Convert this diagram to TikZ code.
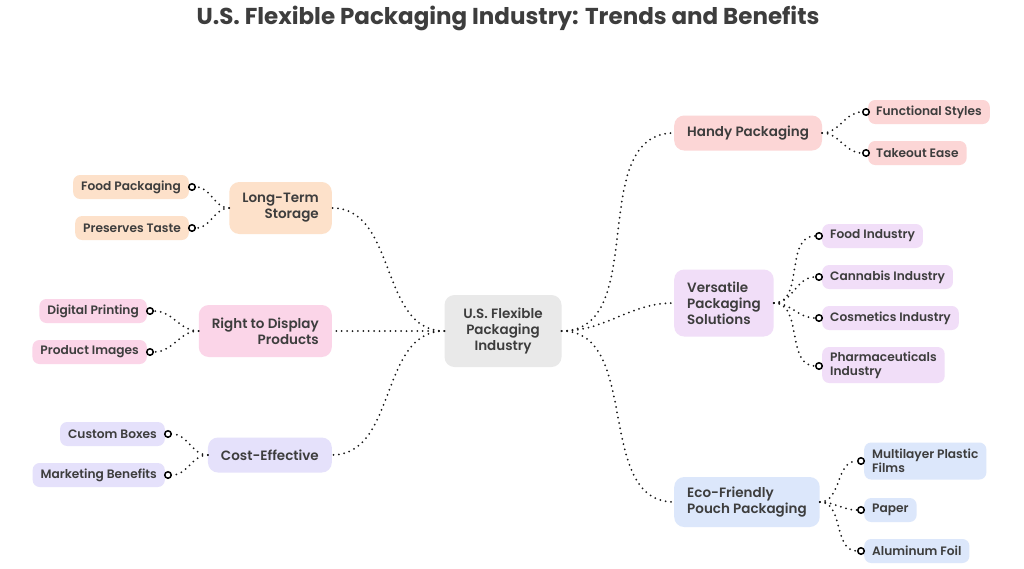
\documentclass[tikz,border=0pt]{standalone}
\usepackage{fontspec}
\setmainfont{Poppins}[UprightFont={* SemiBold}, BoldFont={* Bold}]
\usepackage{tikz}
\usetikzlibrary{positioning}
\usepackage{xcolor}
\definecolor{inkgray}{HTML}{3D3D3D}
\definecolor{ctrfill}{HTML}{E9E9E9}
\definecolor{handyfill}{HTML}{FCD6D6}
\definecolor{versfill}{HTML}{F1DEF8}
\definecolor{ecofill}{HTML}{DCE7FB}
\definecolor{storfill}{HTML}{FDE1CA}
\definecolor{dispfill}{HTML}{FBD5E8}
\definecolor{costfill}{HTML}{E5E1FB}

\begin{document}
\begin{tikzpicture}[x=1pt,y=-1pt,
	box/.style={rounded corners=10pt, text=inkgray, inner xsep=13pt, inner ysep=6pt, minimum height=35pt, font=\fontsize{13.5}{16}\selectfont},
	leaf/.style={rounded corners=7pt, text=inkgray, inner xsep=8pt, inner ysep=4pt, minimum height=24pt, align=left, font=\fontsize{12.2}{14}\selectfont},
	knob/.style={circle, draw=black, line width=1.5pt, fill=white, inner sep=0pt, minimum size=6.5pt},
	link/.style={line width=2pt, dash pattern=on 0pt off 5.4pt, line cap=round, black!90}]
	\useasboundingbox (0,0) rectangle (1024,568);
	\fill[white] (0,0) rectangle (1024,568);
	\node[text=inkgray, font=\bfseries\fontsize{23}{27}\selectfont] (title) at (508,18) {U.S. Flexible Packaging Industry: Trends and Benefits};

	% centre
	\node[box, fill=ctrfill, minimum width=117pt, minimum height=72pt, align=center] (ctr) at (503,331) {U.S. Flexible\\Packaging\\Industry};

	% right branches
	\node[box, fill=handyfill, anchor=west] (handy) at (674,133) {Handy Packaging};
	\node[box, fill=versfill, anchor=west, minimum height=67pt, align=left] (vers) at (674,303) {Versatile\\Packaging\\Solutions};
	\node[box, fill=ecofill, anchor=west, minimum height=50pt, align=left] (eco) at (674,502) {Eco-Friendly\\Pouch Packaging};

	% left branches
	\node[box, fill=storfill, anchor=east, minimum height=52pt, align=right] (stor) at (332,208) {Long-Term\\Storage};
	\node[box, fill=dispfill, anchor=east, minimum height=52pt, align=right] (disp) at (332,331) {Right to Display\\Products};
	\node[box, fill=costfill, anchor=east] (cost) at (332,455) {Cost-Effective};

	\draw[link] (ctr.east) to[out=0, in=180] (handy.west);
	\draw[link] (ctr.east) to[out=0, in=180] (vers.west);
	\draw[link] (ctr.east) to[out=0, in=180] (eco.west);
	\draw[link] (ctr.west) to[out=180, in=0] (stor.east);
	\draw[link] (ctr.west) to[out=180, in=0] (disp.east);
	\draw[link] (ctr.west) to[out=180, in=0] (cost.east);

	% leaves of handy
	\node[leaf, fill=handyfill, anchor=west] (funct) at (868,112) {Functional Styles};
	\node[leaf, fill=handyfill, anchor=west] (takeout) at (868,153) {Takeout Ease};
	\node[knob] (kfunct) at (866,112) {};
	\node[knob] (ktakeout) at (866,153) {};
	\draw[link] (handy.east) to[out=0, in=180] (kfunct);
	\draw[link] (handy.east) to[out=0, in=180] (ktakeout);

	% leaves of vers
	\node[leaf, fill=versfill, anchor=west] (foodind) at (822,236) {Food Industry};
	\node[leaf, fill=versfill, anchor=west] (canna) at (822,277) {Cannabis Industry};
	\node[leaf, fill=versfill, anchor=west] (cosm) at (822,318) {Cosmetics Industry};
	\node[leaf, fill=versfill, anchor=west, minimum height=36pt] (pharma) at (822,365) {Pharmaceuticals\\Industry};
	\node[knob] (kfoodind) at (819,236) {};
	\node[knob] (kcanna) at (819,277) {};
	\node[knob] (kcosm) at (819,318) {};
	\node[knob] (kpharma) at (819,366) {};
	\foreach \k in {kfoodind,kcanna,kcosm,kpharma}
		\draw[link] (vers.east) to[out=0, in=180] (\k);

	% leaves of eco
	\node[leaf, fill=ecofill, anchor=west, minimum height=37pt] (multi) at (864,461) {Multilayer Plastic\\Films};
	\node[leaf, fill=ecofill, anchor=west] (paper) at (864,510) {Paper};
	\node[leaf, fill=ecofill, anchor=west] (alu) at (864,551) {Aluminum Foil};
	\node[knob] (kmulti) at (861,461) {};
	\node[knob] (kpaper) at (861,510) {};
	\node[knob] (kalu) at (861,551) {};
	\foreach \k in {kmulti,kpaper,kalu}
		\draw[link] (eco.east) to[out=0, in=180] (\k);

	% leaves of stor
	\node[leaf, fill=storfill, anchor=east] (foodpack) at (189,187) {Food Packaging};
	\node[leaf, fill=storfill, anchor=east] (taste) at (189,228) {Preserves Taste};
	\node[knob] (kfoodpack) at (192,187) {};
	\node[knob] (ktaste) at (192,228) {};
	\draw[link] (stor.west) to[out=180, in=0] (kfoodpack);
	\draw[link] (stor.west) to[out=180, in=0] (ktaste);

	% leaves of disp
	\node[leaf, fill=dispfill, anchor=east] (digit) at (147,311) {Digital Printing};
	\node[leaf, fill=dispfill, anchor=east] (images) at (147,352) {Product Images};
	\node[knob] (kdigit) at (150,311) {};
	\node[knob] (kimages) at (150,352) {};
	\draw[link] (disp.west) to[out=180, in=0] (kdigit);
	\draw[link] (disp.west) to[out=180, in=0] (kimages);

	% leaves of cost
	\node[leaf, fill=costfill, anchor=east] (boxes) at (165,434) {Custom Boxes};
	\node[leaf, fill=costfill, anchor=east] (market) at (165,475) {Marketing Benefits};
	\node[knob] (kboxes) at (168,434) {};
	\node[knob] (kmarket) at (168,475) {};
	\draw[link] (cost.west) to[out=180, in=0] (kboxes);
	\draw[link] (cost.west) to[out=180, in=0] (kmarket);
\end{tikzpicture}
\end{document}
